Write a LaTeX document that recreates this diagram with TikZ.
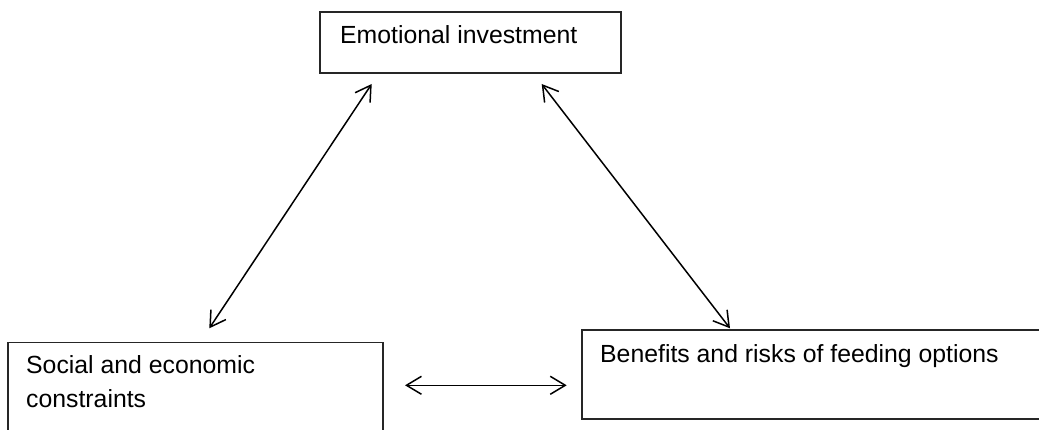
\documentclass[tikz,border=0pt]{standalone}
\usepackage{fontspec}
\setmainfont{Liberation Sans}
\usetikzlibrary{arrows.meta}
\tikzset{
  box/.style={draw=black!85, line width=1.5pt, rectangle, inner sep=0pt, anchor=north west},
  txt/.style={inner sep=0pt, anchor=base west, font=\fontsize{24.8}{34}\selectfont},
  biarrow/.style={line width=1.5pt, {Straight Barb[length=15pt,width=18pt,line width=1.5pt]}-{Straight Barb[length=15pt,width=18pt,line width=1.5pt]}}
}
\begin{document}
\begin{tikzpicture}[x=1pt,y=-1pt]
\useasboundingbox (0,0) rectangle (1039,430);
\clip (0,0) rectangle (1039,430);
\fill[white] (0,0) rectangle (1039,430);
% boxes
\node[box, minimum width=301pt, minimum height=61pt] (emo) at (319,11.5) {};
\node[box, minimum width=375pt, minimum height=110pt] (soc) at (7.3,341.7) {};
\node[box, minimum width=470pt, minimum height=88.7pt] (ben) at (581,329.3) {};
% texts
\node[txt] (emot) at (340,43.3) {Emotional investment};
\node[txt] (soct1) at (26,373.3) {Social and economic};
\node[txt] (soct2) at (26,407.3) {constraints};
\node[txt] (bent) at (600,362.3) {Benefits and risks of feeding options};
% arrow ends
\coordinate (e1) at (371.7,84);
\coordinate (s1) at (209.3,328.3);
\coordinate (e2) at (541.7,84);
\coordinate (b2) at (730,328.3);
\coordinate (s3) at (405,385.3);
\coordinate (b3) at (566.7,385.3);
\draw[biarrow] (e1) -- (s1);
\draw[biarrow] (e2) -- (b2);
\draw[biarrow] (s3) -- (b3);
\end{tikzpicture}
\end{document}
